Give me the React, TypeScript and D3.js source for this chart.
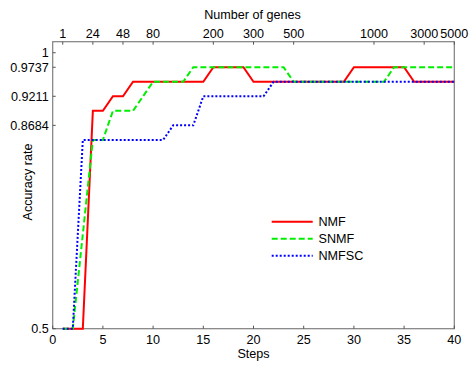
import React, { useEffect, useRef } from "react";
import * as d3 from "d3";

// series, steps 1..40
const steps = d3.range(1, 41);
const nmf = [
  0.5, 0.5, 0.5, 0.8947, 0.8947, 0.9211, 0.9211, 0.9474, 0.9474, 0.9474,
  0.9474, 0.9474, 0.9474, 0.9474, 0.9474, 0.9737, 0.9737, 0.9737, 0.9737, 0.9474,
  0.9474, 0.9474, 0.9474, 0.9474, 0.9474, 0.9474, 0.9474, 0.9474, 0.9474, 0.9737,
  0.9737, 0.9737, 0.9737, 0.9737, 0.9737, 0.9474, 0.9474, 0.9474, 0.9474, 0.9474,
];
const snmf = [
  0.5, 0.5, 0.6711, 0.8421, 0.8421, 0.8947, 0.8947, 0.8947, 0.9211, 0.9474,
  0.9474, 0.9474, 0.9474, 0.9737, 0.9737, 0.9737, 0.9737, 0.9737, 0.9737, 0.9737,
  0.9737, 0.9737, 0.9737, 0.9474, 0.9474, 0.9474, 0.9474, 0.9474, 0.9474, 0.9474,
  0.9474, 0.9474, 0.9474, 0.9737, 0.9737, 0.9737, 0.9737, 0.9737, 0.9737, 0.9737,
];
const nmfsc = [
  0.5, 0.5, 0.8421, 0.8421, 0.8421, 0.8421, 0.8421, 0.8421, 0.8421, 0.8421,
  0.8421, 0.8684, 0.8684, 0.8684, 0.9211, 0.9211, 0.9211, 0.9211, 0.9211, 0.9211,
  0.9211, 0.9474, 0.9474, 0.9474, 0.9474, 0.9474, 0.9474, 0.9474, 0.9474, 0.9474,
  0.9474, 0.9474, 0.9474, 0.9474, 0.9474, 0.9474, 0.9474, 0.9474, 0.9474, 0.9474,
];
const yTicks = [0.5, 0.8684, 0.9211, 0.9737, 1];
const xTicks = [0, 5, 10, 15, 20, 25, 30, 35, 40];
const geneSteps = [1, 4, 7, 10, 16, 20, 24, 32, 37, 40];
const geneLabels = ["1", "24", "48", "80", "200", "300", "500", "1000", "3000", "5000"];

const series = [
  { name: "NMF", values: nmf, color: "#ff0000", dash: "none" },
  { name: "SNMF", values: snmf, color: "#00ee00", dash: "6,3" },
  { name: "NMFSC", values: nmfsc, color: "#0000ff", dash: "2,2" },
];

const W = 474;
const H = 365;
const margin = { left: 52.7, right: 19.7, top: 41.7, bottom: 36.3 };
const font = "Liberation Sans, Arial, sans-serif";
const fs = 12.6;

const App = () => {
  const ref = useRef(null);

  useEffect(() => {
    const svg = d3.select(ref.current);
    svg.selectAll("*").remove();

    const x = d3.scaleLinear().domain([0, 40]).range([margin.left, W - margin.right]);
    const y = d3.scaleLinear().domain([0.5, 1.02]).range([H - margin.bottom, margin.top]);
    const [x0, x1] = x.range();
    const [y0, y1] = y.range();

    // frame
    svg
      .append("rect")
      .attr("x", x0)
      .attr("y", y1)
      .attr("width", x1 - x0)
      .attr("height", y0 - y1)
      .attr("fill", "white")
      .attr("stroke", "#7f7f7f")
      .attr("stroke-width", 1.2);

    const g = svg.append("g").attr("font-family", font).attr("font-size", fs).attr("fill", "#000");

    // bottom ticks
    xTicks.forEach((t) => {
      g.append("line").attr("x1", x(t)).attr("x2", x(t)).attr("y1", y0).attr("y2", y0 - 3).attr("stroke", "#555");
      g.append("text").attr("x", x(t)).attr("y", 343.5).attr("text-anchor", "middle").text(t);
    });
    // top ticks (genes)
    geneSteps.forEach((s, i) => {
      g.append("line").attr("x1", x(s)).attr("x2", x(s)).attr("y1", y1).attr("y2", y1 + 3).attr("stroke", "#555");
      g.append("text")
        .attr("x", x(s))
        .attr("y", 37.5)
        .attr("text-anchor", "middle")
        .text(geneLabels[i]);
    });
    // y ticks
    yTicks.forEach((t) => {
      g.append("line").attr("x1", x0).attr("x2", x0 + 3).attr("y1", y(t)).attr("y2", y(t)).attr("stroke", "#555");
      g.append("text")
        .attr("x", x0 - 4)
        .attr("y", y(t) + 4.4)
        .attr("text-anchor", "end")
        .text(t);
    });

    // axis titles
    g.append("text").attr("x", (x0 + x1) / 2 - 1).attr("y", 19).attr("text-anchor", "middle").text("Number of genes");
    g.append("text").attr("x", (x0 + x1) / 2).attr("y", 358).attr("text-anchor", "middle").text("Steps");
    g.append("text")
      .attr("transform", `translate(31.5,182) rotate(-90)`)
      .attr("text-anchor", "middle")
      .text("Accuracy rate");

    // lines
    const line = d3
      .line<number>()
      .x((_, i) => x(steps[i]))
      .y((d) => y(d));

    series.forEach((s) => {
      svg
        .append("path")
        .datum(s.values)
        .attr("d", line)
        .attr("fill", "none")
        .attr("stroke", s.color)
        .attr("stroke-width", 2)
        .attr("stroke-dasharray", s.dash);
    });

    // legend
    const leg = svg.append("g").attr("font-family", font).attr("font-size", fs);
    series.forEach((s, i) => {
      const ly = 221.7 + i * 17;
      leg
        .append("line")
        .attr("x1", 271.7)
        .attr("x2", 312.7)
        .attr("y1", ly)
        .attr("y2", ly)
        .attr("stroke", s.color)
        .attr("stroke-width", 2)
        .attr("stroke-dasharray", s.dash);
      leg.append("text").attr("x", 318.5).attr("y", ly + 4.4).text(s.name);
    });
  }, []);

  return (
    <div style={{ position: "absolute", left: 0, top: 0 }}>
      <svg ref={ref} width={W} height={H} style={{ display: "block", background: "white" }}></svg>
    </div>
  );
};

export default App;
